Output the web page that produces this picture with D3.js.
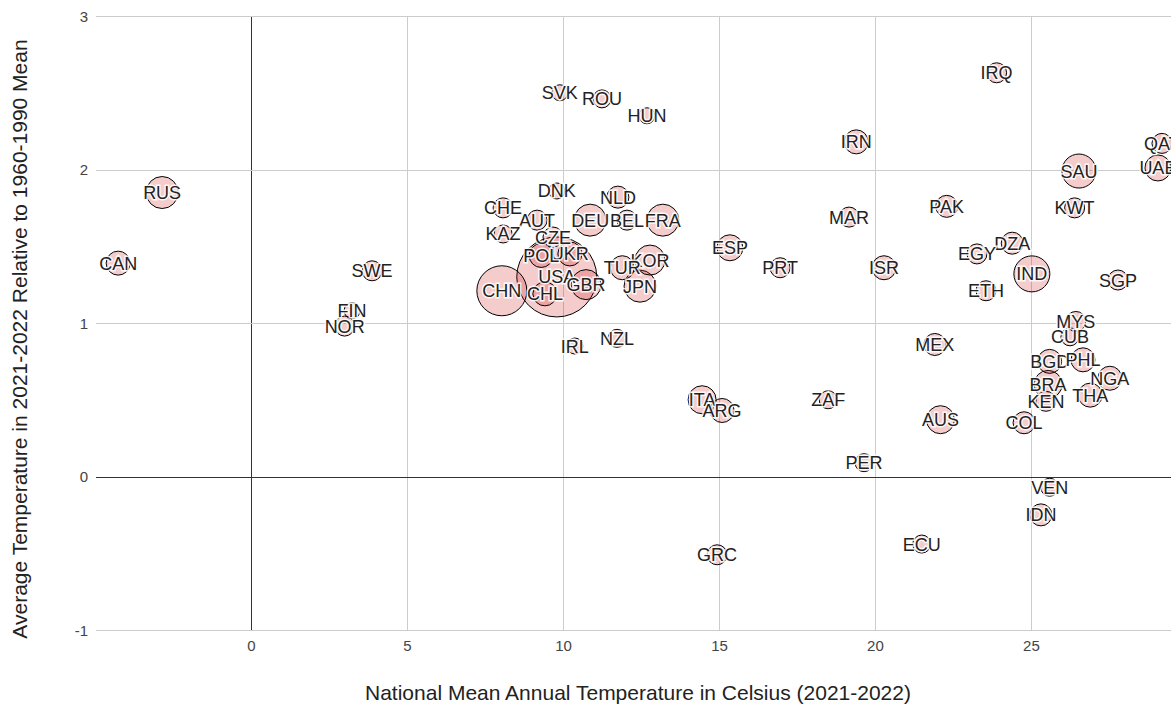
<!DOCTYPE html>
<html>
<head>
<meta charset="utf-8">
<script src="https://cdn.jsdelivr.net/npm/d3@7"></script>
<style>
	body { margin: 0; background: #fff; }
	svg { display: block; font-family: Arial, "Liberation Sans", sans-serif; }
</style>
</head>
<body>
<svg id="chart" width="1171" height="706"></svg>
<script>
// --- Data ---
const countries = [
	"CAN", "RUS", "SWE", "FIN", "NOR", "SVK", "ROU", "HUN", "DNK", "NLD",
	"CHE", "AUT", "DEU", "BEL", "FRA", "KAZ", "CZE", "UKR", "POL", "USA",
	"GBR", "CHN", "CHL", "TUR", "KOR", "JPN", "ESP", "PRT", "IRL", "NZL",
	"ITA", "ARG", "GRC", "ZAF", "PER", "IRN", "MAR", "ISR", "PAK", "MEX",
	"AUS", "ECU", "EGY", "DZA", "ETH", "IND", "IRQ", "SAU", "KWT", "QAT",
	"UAE", "SGP", "MYS", "CUB", "BGD", "BRA", "PHL", "NGA", "THA", "KEN",
	"COL", "VEN", "IDN"
];
// national mean annual temperature, celsius (2021-2022)
const meanTemp = [
	-4.26, -2.85, 3.88, 3.24, 3.0, 9.9, 11.25, 12.69, 9.8, 11.76,
	8.08, 9.17, 10.87, 12.05, 13.2, 8.08, 9.68, 10.22, 9.3, 9.8,
	10.74, 8.04, 9.42, 11.9, 12.79, 12.47, 15.35, 16.96, 10.38, 11.73,
	14.46, 15.1, 14.94, 18.5, 19.65, 19.4, 19.17, 20.29, 22.3, 21.92,
	22.1, 21.5, 23.27, 24.4, 23.56, 25.03, 23.9, 26.54, 26.4, 29.2,
	29.07, 27.79, 26.44, 26.25, 25.6, 25.55, 26.67, 27.53, 26.9, 25.48,
	24.78, 25.6, 25.32
];
// anomaly vs 1960-1990 mean
const anomaly = [
	1.39, 1.85, 1.34, 1.08, 0.98, 2.50, 2.46, 2.35, 1.86, 1.82,
	1.75, 1.67, 1.67, 1.67, 1.67, 1.58, 1.56, 1.45, 1.44, 1.30,
	1.25, 1.21, 1.19, 1.36, 1.41, 1.24, 1.49, 1.36, 0.85, 0.90,
	0.50, 0.43, -0.51, 0.50, 0.09, 2.18, 1.69, 1.36, 1.76, 0.86,
	0.37, -0.44, 1.45, 1.52, 1.21, 1.32, 2.63, 1.99, 1.75, 2.17,
	2.01, 1.28, 1.01, 0.91, 0.75, 0.60, 0.76, 0.64, 0.53, 0.49,
	0.35, -0.07, -0.25
];
// bubble size value
const bubbleSize = [
	12, 16, 10, 8, 10, 8, 9, 8, 8, 11,
	10, 10, 16, 10, 16, 9, 10, 12, 12, 40,
	15, 25, 12, 12, 15, 16, 13, 10, 8, 9,
	14, 12, 10, 9, 9, 12, 10, 12, 11, 11,
	14, 9, 10, 11, 10, 18, 10, 17, 10, 10,
	13, 10, 10, 9, 12, 14, 12, 12, 12, 10,
	11, 9, 11
];
const xTicks = [0, 5, 10, 15, 20, 25];
const yTicks = [-1, 0, 1, 2, 3];

const rows = countries.map((c, i) => ({
	code: c, x: meanTemp[i], y: anomaly[i], size: bubbleSize[i]
}));

// --- Layout ---
const svg = d3.select("#chart");
const W = 1171, H = 706;
const plot = { left: 96, right: 1171, top: 16, bottom: 630 };

const x = d3.scaleLinear().domain([-4.97, 29.49]).range([plot.left, plot.right]);
const y = d3.scaleLinear().domain([-1, 3]).range([plot.bottom, plot.top]);
const r = d3.scaleLinear()
	.domain(d3.extent(bubbleSize))
	.range([8, 40]);

svg.append("rect").attr("width", W).attr("height", H).attr("fill", "#fff");

// gridlines
const grid = svg.append("g");
grid.selectAll("line.v")
	.data(xTicks)
	.enter().append("line")
	.attr("x1", (d) => Math.round(x(d)) + 0.5).attr("x2", (d) => Math.round(x(d)) + 0.5)
	.attr("y1", plot.top).attr("y2", plot.bottom)
	.attr("stroke", (d) => (d === 0 ? "#333" : "#ccc"))
	.attr("stroke-width", 1);
grid.selectAll("line.h")
	.data(yTicks)
	.enter().append("line")
	.attr("x1", plot.left).attr("x2", plot.right)
	.attr("y1", (d) => Math.round(y(d)) + 0.5).attr("y2", (d) => Math.round(y(d)) + 0.5)
	.attr("stroke", (d) => (d === 0 ? "#333" : "#ccc"))
	.attr("stroke-width", 1);

// axes (labels only, google-charts style)
const fmt = (d) => String(d);
const xAxis = d3.axisBottom(x).tickValues(xTicks).tickFormat(fmt).tickSize(0).tickPadding(0);
const xg = svg.append("g")
	.attr("transform", `translate(0,${plot.bottom})`)
	.call(xAxis);
xg.select(".domain").remove();
xg.selectAll("text")
	.attr("y", 21)
	.attr("dy", 0)
	.attr("font-size", 15)
	.attr("font-family", "Arial, 'Liberation Sans', sans-serif")
	.attr("fill", "#444");

const yAxis = d3.axisLeft(y).tickValues(yTicks).tickFormat(fmt).tickSize(0).tickPadding(0);
const yg = svg.append("g")
	.attr("transform", `translate(${plot.left - 8},0)`)
	.call(yAxis);
yg.select(".domain").remove();
yg.selectAll("text")
	.attr("x", 0)
	.attr("dy", "0.35em")
	.attr("font-size", 15)
	.attr("font-family", "Arial, 'Liberation Sans', sans-serif")
	.attr("fill", "#444");

// axis titles
svg.append("text")
	.attr("x", 638).attr("y", 700)
	.attr("text-anchor", "middle")
	.attr("font-size", 21)
	.attr("fill", "#222")
	.text("National Mean Annual Temperature in Celsius (2021-2022)");

svg.append("text")
	.attr("transform", `translate(27,${(plot.top + plot.bottom) / 2 + 16}) rotate(-90)`)
	.attr("text-anchor", "middle")
	.attr("font-size", 21)
	.attr("fill", "#222")
	.text("Average Temperature in 2021-2022 Relative to 1960-1990 Mean");

// --- Bubbles (big ones underneath) ---
const sorted = rows.slice().sort((a, b) => b.size - a.size);
const bubbles = svg.append("g");
bubbles.selectAll("circle")
	.data(sorted)
	.enter().append("circle")
	.attr("cx", (d) => x(d.x))
	.attr("cy", (d) => y(d.y))
	.attr("r", (d) => r(d.size))
	.attr("fill", "rgb(204,0,0)")
	.attr("fill-opacity", 0.2)
	.attr("stroke", "#000")
	.attr("stroke-width", 1);

// labels with white halo
const labels = svg.append("g");
labels.selectAll("text")
	.data(sorted)
	.enter().append("text")
	.attr("x", (d) => x(d.x))
	.attr("y", (d) => y(d.y))
	.attr("dy", "0.36em")
	.attr("text-anchor", "middle")
	.attr("font-size", 18)
	.attr("fill", "#222")
	.attr("stroke", "#fff")
	.attr("stroke-width", 3)
	.attr("stroke-opacity", 0.85)
	.attr("paint-order", "stroke")
	.text((d) => d.code);
</script>
</body>
</html>
